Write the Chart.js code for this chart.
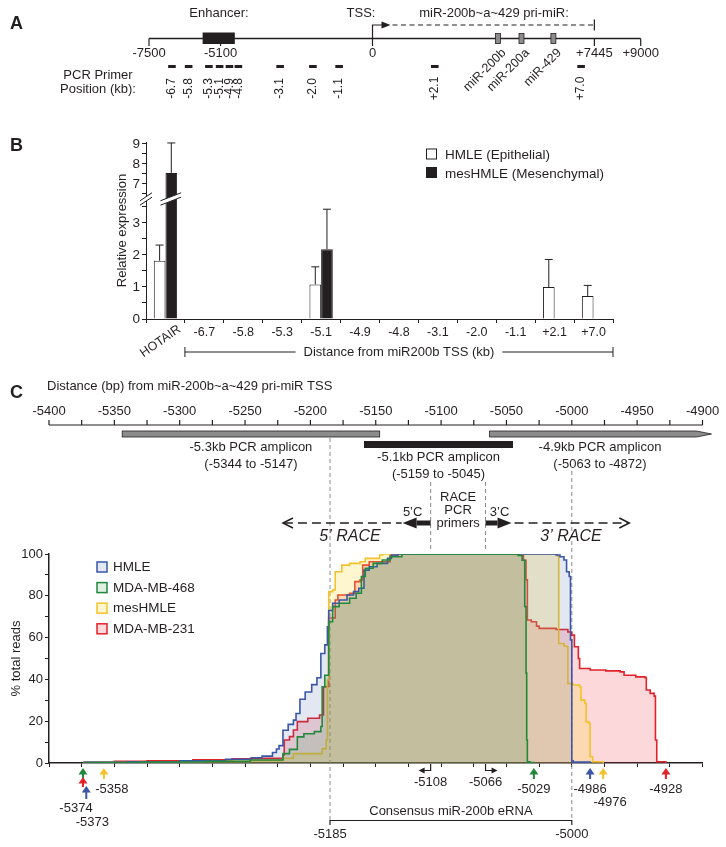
<!DOCTYPE html>
<html>
<head>
<meta charset="utf-8">
<script src="https://cdn.jsdelivr.net/npm/chart.js@4.4.1/dist/chart.umd.min.js"></script>
<style>
  html, body { margin: 0; padding: 0; background: #fff; }
  #fig { position: relative; width: 726px; height: 847px; overflow: hidden; }
  canvas { position: absolute; left: 0; }
</style>
</head>
<body>
<div id="fig">
  <canvas id="panelA" width="726" height="112" style="top:0"></canvas>
  <canvas id="panelB" width="726" height="253" style="top:112px"></canvas>
  <canvas id="panelC" width="726" height="482" style="top:365px"></canvas>
</div>
<script>
// ---- panel A: locus ----
const primerLabels = ['-6.7', '-5.8', '-5.3', '-5.1', '-4.9', '-4.8', '-3.1', '-2.0', '-1.1', '+2.1', '+7.0'];
// where each primer mark sits on the drawn locus (kb); the close ones are spread apart in the figure
const primerMarkKb = [-6.73, -6.17, -5.49, -5.13, -4.80, -4.50, -3.10, -2.00, -1.12, 2.09, 7.0];
const locusTicks = [-7500, -5100, 0, 7445, 9000];
const locusTickLabels = ['-7500', '-5100', '0', '+7445', '+9000'];
const enhancerSpan = [-5700, -4620];
const mirNames = ['miR-200b', 'miR-200a', 'miR-429'];
const mirPos = [4210, 5000, 6070];
const priMirEnd = 7445;

// ---- panel B: relative expression ----
const categories = ['HOTAIR', '-6.7', '-5.8', '-5.3', '-5.1', '-4.9', '-4.8', '-3.1', '-2.0', '-1.1', '+2.1', '+7.0'];
const hmleExpr = [1.82, 0, 0, 0, 1.08, 0, 0, 0, 0, 0, 1.0, 0.72];
const hmleErr  = [0.49, 0, 0, 0, 0.55, 0, 0, 0, 0, 0, 0.86, 0.33];
const mesExpr  = [7.55, 0, 0, 0, 2.18, 0, 0, 0, 0, 0, 0, 0];
const mesErr   = [1.5, 0, 0, 0, 1.25, 0, 0, 0, 0, 0, 0, 0];
const exprTicks = [0, 0.5, 1, 1.5, 2, 2.5, 3, 3.5, 6.5, 7, 7.5, 8, 8.5, 9];
const exprTickLabels = ['0', '', '1', '', '2', '', '3', '', '', '7', '', '8', '', '9'];
const breakLow = 3.75, breakHigh = 6.25, upperScale = 0.625;

// ---- panel C: RACE read coverage [bp, % total reads] ----
const hmleReads = [[-5373, 0.3], [-5340, 0.6], [-5300, 1.0], [-5265, 1.8], [-5245, 2.5], [-5237, 3.3], [-5229, 5.0], [-5226, 6.7], [-5224, 8.3], [-5221, 15.7], [-5217, 18.5], [-5213, 20.5], [-5211, 23.7], [-5208, 30.5], [-5204, 34.0], [-5199, 37.5], [-5195, 40.8], [-5192, 52.4], [-5189, 56.5], [-5187, 65.2], [-5186, 73.0], [-5183, 76.4], [-5178, 78.0], [-5172, 80.4], [-5167, 82.0], [-5163, 83.6], [-5159, 92.3], [-5155, 93.9], [-5149, 95.5], [-5141, 97.9], [-5138, 99.5], [-5133, 100], [-5012, 99.5], [-5009, 98.7], [-5006, 97.1], [-5004, 91.5], [-5002, 89.2], [-5001, 58.9], [-5000, 1.0], [-4999, 0.4], [-4986, 0]];
const mda468Reads = [[-5374, 0.2], [-5330, 0.5], [-5280, 0.8], [-5246, 1.4], [-5221, 4.5], [-5216, 6.5], [-5210, 12.5], [-5205, 14.0], [-5197, 15.0], [-5192, 17.5], [-5191, 36.5], [-5189, 42.0], [-5186, 67.6], [-5183, 74.8], [-5178, 76.4], [-5170, 78.8], [-5165, 81.2], [-5161, 89.2], [-5158, 93.2], [-5152, 95.5], [-5145, 97.1], [-5139, 98.7], [-5130, 100], [-5041, 99.3], [-5038, 97.0], [-5036, 74.8], [-5035, 43.0], [-5034.5, 11.0], [-5034, 0.6], [-5032, 0.2], [-5029, 0]];
const mesReads = [[-5358, 0.2], [-5320, 0.5], [-5280, 0.8], [-5246, 1.1], [-5221, 2.3], [-5213, 4.5], [-5191, 6.9], [-5188, 11.0], [-5187, 39.7], [-5186, 82.0], [-5183, 82.8], [-5181, 91.5], [-5176, 94.7], [-5170, 95.5], [-5162, 96.3], [-5158, 97.9], [-5147, 99.5], [-5145, 100], [-5011, 99.0], [-5010, 57.2], [-5006, 56.0], [-5004, 55.6], [-5003, 38.0], [-4999, 37.3], [-4994, 36.5], [-4993, 30.1], [-4990, 28.5], [-4989, 19.7], [-4987, 19.0], [-4986, 3.0], [-4984, 0.6], [-4976, 0]];
const mda231Reads = [[-5374, 0.3], [-5350, 0.8], [-5325, 1.1], [-5290, 1.5], [-5260, 2.0], [-5246, 2.2], [-5221, 3.8], [-5220, 11.0], [-5216, 12.6], [-5213, 15.8], [-5210, 19.8], [-5202, 21.4], [-5193, 23.0], [-5190, 36.5], [-5186, 69.4], [-5181, 78.0], [-5179, 80.4], [-5170, 81.2], [-5166, 86.8], [-5162, 87.6], [-5160, 94.7], [-5155, 96.3], [-5139, 99.5], [-5133, 100], [-5041, 99.5], [-5037, 97.0], [-5035, 87.6], [-5034, 68.4], [-5031, 67.6], [-5027, 65.5], [-5025, 64.4], [-5012, 63.9], [-5003, 62.7], [-5000, 61.2], [-4998, 55.6], [-4995, 50.0], [-4994, 45.2], [-4986, 44.5], [-4974, 44.1], [-4963, 43.6], [-4960, 42.0], [-4951, 41.2], [-4944, 40.9], [-4943, 34.9], [-4940, 33.3], [-4937, 32.0], [-4936, 11.0], [-4935, 0.6], [-4928, 0]];
const cellLines = ['HMLE', 'MDA-MB-468', 'mesHMLE', 'MDA-MB-231'];
const bpTicks = [-5400, -5350, -5300, -5250, -5200, -5150, -5100, -5050, -5000, -4950, -4900];
const ampliconNames = ['-5.3kb PCR amplicon', '-5.1kb PCR amplicon', '-4.9kb PCR amplicon'];
const ampliconStart = [-5344, -5159, -5063];
const ampliconEnd = [-5147, -5045, -4872];
const racePrimers = [-5108, -5066];
const consensus = [-5185, -5000];
const readEnds = [-5374, -5374, -5373, -5358, -5029, -4986, -4976, -4928];
const readEndLine = [1, 3, 0, 2, 1, 0, 2, 3];

const INK = '#231f20';
const FONT = "'Liberation Sans', Arial, Helvetica, sans-serif";
const lineColors = ['#3a57a7', '#22893c', '#f3c22c', '#e3222a'];
const fillColors = ['rgba(59,91,169,0.15)', 'rgba(40,150,60,0.15)', 'rgba(250,220,60,0.25)', 'rgba(240,40,50,0.18)'];

function toD(v) { return v <= breakLow ? v : breakLow + (v - breakHigh) * upperScale; }

function label(ctx, s, x, y, size, align, style) {
  ctx.font = (style ? style + ' ' : '') + size + 'px ' + FONT;
  ctx.fillStyle = INK;
  ctx.textAlign = align || 'center';
  ctx.textBaseline = 'middle';
  ctx.fillText(s, x, y);
}
function seg(ctx, x0, y0, x1, y1) {
  ctx.beginPath(); ctx.moveTo(x0, y0); ctx.lineTo(x1, y1); ctx.stroke();
}
function panelLetter(ctx, s, y) { label(ctx, s, 10, y, 18, 'left', 'bold'); }

const baseOpts = {
  responsive: false, animation: false, devicePixelRatio: 1, events: [],
  plugins: { legend: { display: false }, tooltip: { enabled: false } }
};

// ================= panel A =================
const locusPlugin = {
  id: 'locus',
  afterDraw(chart) {
    const ctx = chart.ctx;
    const px = v => chart.scales.x.getPixelForValue(v);
    const axisY = 38.5;
    ctx.save();
    ctx.strokeStyle = INK; ctx.fillStyle = INK;
    ctx.lineWidth = 1.5;
    seg(ctx, px(locusTicks[0]), axisY, px(locusTicks[locusTicks.length - 1]), axisY);
    ctx.lineWidth = 1.2;
    locusTicks.forEach((t, i) => {
      seg(ctx, px(t), axisY, px(t), axisY + 7.5);
      label(ctx, locusTickLabels[i], px(t), 53.5, 13);
    });
    ctx.fillStyle = INK;
    ctx.fillRect(px(enhancerSpan[0]), 32.5, px(enhancerSpan[1]) - px(enhancerSpan[0]), 11.5);

    // TSS arrow and pri-miR extent
    const x0 = px(0);
    ctx.beginPath(); ctx.moveTo(x0, axisY); ctx.lineTo(x0, 25); ctx.lineTo(x0 + 11, 25); ctx.stroke();
    ctx.beginPath(); ctx.moveTo(x0 + 18, 25); ctx.lineTo(x0 + 9, 21.5); ctx.lineTo(x0 + 9, 28.5); ctx.closePath(); ctx.fill();
    ctx.setLineDash([5, 3.5]);
    seg(ctx, x0 + 20, 25, px(priMirEnd), 25);
    ctx.setLineDash([]);
    seg(ctx, px(priMirEnd), 19.5, px(priMirEnd), 30.5);

    mirPos.forEach((p, i) => {
      ctx.fillStyle = '#8c8c8c';
      ctx.fillRect(px(p) - 2.5, 33.5, 5, 10);
      ctx.lineWidth = 0.8;
      ctx.strokeRect(px(p) - 2.5, 33.5, 5, 10);
      ctx.save();
      ctx.translate(px(p) + 6, 51);
      ctx.rotate(-Math.PI / 4);
      label(ctx, mirNames[i], 0, 0, 12.5, 'right');
      ctx.restore();
    });

    label(ctx, 'Enhancer:', 219, 13, 13);
    label(ctx, 'TSS:', 361, 13, 13);
    label(ctx, 'miR-200b~a~429 pri-miR:', 494, 13, 13);
    label(ctx, 'PCR Primer', 98, 75, 13);
    label(ctx, 'Position (kb):', 98, 89, 13);

    primerMarkKb.forEach((k, i) => {
      ctx.save();
      ctx.translate(px(k * 1000), 88.5);
      ctx.rotate(-Math.PI / 2);
      label(ctx, primerLabels[i], 0, 0, 12);
      ctx.restore();
    });
    panelLetter(ctx, 'A', 24);
    ctx.restore();
  }
};

new Chart(document.getElementById('panelA'), {
  type: 'scatter',
  data: {
    datasets: [{
      data: primerMarkKb.map(k => ({ x: k * 1000, y: 0.5 })),
      pointStyle: 'line', pointRadius: 3.8, borderWidth: 3.2, borderColor: INK
    }]
  },
  options: Object.assign({}, baseOpts, {
    layout: { padding: { left: 149, right: 85.3, top: 60, bottom: 39 } },
    scales: {
      x: { type: 'linear', min: -7500, max: 9000, display: false },
      y: { min: 0, max: 1, display: false }
    }
  }),
  plugins: [locusPlugin]
});

// ================= panel B =================
function breakMark(ctx, x0, x1, y) {
  const h = 4, g = 2.2;
  ctx.fillStyle = '#fff';
  ctx.beginPath();
  ctx.moveTo(x0, y + h + g); ctx.lineTo(x1, y - h + g);
  ctx.lineTo(x1, y - h - g); ctx.lineTo(x0, y + h - g);
  ctx.closePath(); ctx.fill();
  ctx.strokeStyle = INK; ctx.lineWidth = 1;
  seg(ctx, x0, y + h + g, x1, y - h + g);
  seg(ctx, x0, y + h - g, x1, y - h - g);
}

const exprPlugin = {
  id: 'expr',
  afterDatasetsDraw(chart) {
    const ctx = chart.ctx, ys = chart.scales.y;
    ctx.save();
    ctx.strokeStyle = INK; ctx.lineWidth = 1;
    [[hmleExpr, hmleErr], [mesExpr, mesErr]].forEach(([vals, errs], di) => {
      const meta = chart.getDatasetMeta(di);
      vals.forEach((v, i) => {
        if (!errs[i]) return;
        const bar = meta.data[i];
        const yTop = ys.getPixelForValue(toD(v + errs[i]));
        seg(ctx, bar.x, bar.y, bar.x, yTop);
        seg(ctx, bar.x - 4, yTop, bar.x + 4, yTop);
      });
    });
    ctx.restore();
  },
  afterDraw(chart) {
    const ctx = chart.ctx, xs = chart.scales.x, ys = chart.scales.y, area = chart.chartArea;
    ctx.save();
    const yb = ys.getPixelForValue(breakLow);
    breakMark(ctx, area.left - 6, area.left + 6, yb);
    const mesBar = chart.getDatasetMeta(1).data[0];
    breakMark(ctx, mesBar.x - mesBar.width / 2 - 5, mesBar.x + mesBar.width / 2 + 4, yb);

    // rotated first category label
    ctx.save();
    ctx.translate(xs.getPixelForValue(0) + 14, area.bottom + 9);
    ctx.rotate(-35 * Math.PI / 180);
    label(ctx, categories[0], 0, 0, 12.5, 'right');
    ctx.restore();

    // bracket under the primer categories
    const bx0 = (xs.getPixelForValue(0) + xs.getPixelForValue(1)) / 2;
    const bx1 = area.right;
    const by = area.bottom + 33;
    const title = 'Distance from miR200b TSS (kb)';
    ctx.font = '13px ' + FONT;
    const tw = ctx.measureText(title).width;
    const cx = (bx0 + bx1) / 2;
    ctx.strokeStyle = INK; ctx.lineWidth = 1;
    seg(ctx, bx0, by, cx - tw / 2 - 8, by);
    seg(ctx, cx + tw / 2 + 8, by, bx1, by);
    seg(ctx, bx0, by - 5, bx0, by + 5);
    seg(ctx, bx1, by - 5, bx1, by + 5);
    label(ctx, title, cx, by, 13);

    // legend
    const leg = [['HMLE (Epithelial)', '#fff'], ['mesHMLE (Mesenchymal)', INK]];
    leg.forEach(([t, c], i) => {
      const y = 42 + i * 18.5;
      ctx.fillStyle = c; ctx.fillRect(426.5, y - 5, 10, 10);
      ctx.strokeStyle = INK; ctx.lineWidth = 1; ctx.strokeRect(426.5, y - 5, 10, 10);
      label(ctx, t, 445, y + 1.5, 13.5, 'left');
    });
    panelLetter(ctx, 'B', 34);
    ctx.restore();
  }
};

new Chart(document.getElementById('panelB'), {
  type: 'bar',
  data: {
    labels: categories,
    datasets: [
      { label: 'HMLE (Epithelial)', data: hmleExpr.map(toD), backgroundColor: '#fff', borderColor: INK, borderWidth: 1 },
      { label: 'mesHMLE (Mesenchymal)', data: mesExpr.map(toD), backgroundColor: INK, borderColor: INK, borderWidth: 1 }
    ]
  },
  options: Object.assign({}, baseOpts, {
    layout: { padding: { left: 115, right: 113, top: 30, bottom: 0 } },
    datasets: { bar: { categoryPercentage: 0.6, barPercentage: 1 } },
    scales: {
      x: {
        grid: { drawOnChartArea: false, offset: true, color: INK, tickLength: 4 },
        border: { color: INK, width: 1 },
        ticks: { color: INK, font: { family: FONT, size: 12.5 }, padding: 2, maxRotation: 0, autoSkip: false,
                 callback: (v, i) => i === 0 ? '' : categories[i] },
        afterFit: s => { s.height = 46; }
      },
      y: {
        min: 0, max: 5.53,
        grid: { drawOnChartArea: false, color: INK, tickLength: 4 },
        border: { color: INK, width: 1 },
        afterBuildTicks: s => { s.ticks = exprTicks.map(v => ({ value: toD(v) })); },
        ticks: { color: INK, font: { family: FONT, size: 13.5 }, padding: 2, autoSkip: false,
                 callback: (v, i) => exprTickLabels[i] },
        title: { display: true, text: 'Relative expression', color: INK, font: { family: FONT, size: 13 }, padding: 0 },
        afterFit: s => { s.width = 31; }
      }
    }
  }),
  plugins: [exprPlugin]
});

// ================= panel C =================
function blockArrow(ctx, xFrom, xTo, y) {
  const dir = xTo > xFrom ? 1 : -1, head = 14;
  ctx.fillStyle = INK;
  ctx.fillRect(Math.min(xFrom, xTo - dir * head), y - 2.5, Math.abs(xTo - dir * head - xFrom), 5);
  ctx.beginPath();
  ctx.moveTo(xTo, y); ctx.lineTo(xTo - dir * head, y - 5.5); ctx.lineTo(xTo - dir * head, y + 5.5);
  ctx.closePath(); ctx.fill();
}
function upArrow(ctx, x, yTip, len, color) {
  ctx.fillStyle = color; ctx.strokeStyle = color; ctx.lineWidth = 2;
  ctx.beginPath(); ctx.moveTo(x, yTip); ctx.lineTo(x - 4.5, yTip + 6.5); ctx.lineTo(x + 4.5, yTip + 6.5); ctx.closePath(); ctx.fill();
  seg(ctx, x, yTip + 5, x, yTip + len);
}

const readsPlugin = {
  id: 'reads',
  beforeDatasetsDraw(chart) {
    const ctx = chart.ctx, px = v => chart.scales.x.getPixelForValue(v);
    ctx.save();
    ctx.strokeStyle = '#8a8a8a'; ctx.lineWidth = 1; ctx.setLineDash([4, 3]);
    seg(ctx, px(consensus[0]), 73, px(consensus[0]), 455.5);
    seg(ctx, px(consensus[1]), 106, px(consensus[1]), 455.5);
    racePrimers.forEach(p => seg(ctx, px(p), 117, px(p), 184));
    ctx.restore();
  },
  afterDraw(chart) {
    const ctx = chart.ctx, xs = chart.scales.x, area = chart.chartArea;
    const px = v => xs.getPixelForValue(v);
    ctx.save();
    ctx.strokeStyle = INK;

    // top coordinate ruler
    const topY = 60;
    ctx.lineWidth = 1.2;
    seg(ctx, px(xs.min), topY, px(xs.max), topY);
    for (let v = xs.min; v <= xs.max; v += 25) seg(ctx, px(v), topY, px(v), topY - 5);
    bpTicks.forEach(v => label(ctx, String(v), px(v), 46, 13));
    label(ctx, 'Distance (bp) from miR-200b~a~429 pri-miR TSS', 47, 21, 13, 'left');

    // PCR amplicons
    ctx.lineWidth = 0.8;
    ctx.fillStyle = '#8c8c8c';
    ctx.fillRect(px(ampliconStart[0]), 66, px(ampliconEnd[0]) - px(ampliconStart[0]), 6);
    ctx.strokeRect(px(ampliconStart[0]), 66, px(ampliconEnd[0]) - px(ampliconStart[0]), 6);
    const tip = px(xs.max);
    ctx.beginPath();
    ctx.moveTo(px(ampliconStart[2]), 66); ctx.lineTo(tip - 6, 66); ctx.lineTo(tip + 9, 69);
    ctx.lineTo(tip - 6, 72); ctx.lineTo(px(ampliconStart[2]), 72); ctx.closePath();
    ctx.fill(); ctx.stroke();
    ctx.fillStyle = INK;
    ctx.fillRect(px(ampliconStart[1]), 76, px(ampliconEnd[1]) - px(ampliconStart[1]), 7);
    const ampX = [(px(ampliconStart[0]) + px(ampliconEnd[0])) / 2,
                  (px(ampliconStart[1]) + px(ampliconEnd[1])) / 2,
                  (px(ampliconStart[2]) + tip) / 2 + 4];
    const ampY = [82, 92, 82];
    ampliconNames.forEach((n, i) => {
      label(ctx, n, ampX[i], ampY[i], 13);
      label(ctx, '(' + ampliconStart[i] + ' to ' + ampliconEnd[i] + ')', ampX[i], ampY[i] + 17, 13);
    });

    // RACE directions
    const ry = 158;
    const pL = px(racePrimers[0]), pR = px(racePrimers[1]);
    const outL = px(-5221), outR = px(-4956);
    ctx.strokeStyle = INK; ctx.lineWidth = 1.5;
    ctx.setLineDash([9, 5]);
    seg(ctx, outL + 1, ry, pL - 29, ry);
    seg(ctx, pR + 29, ry, outR - 1, ry);
    ctx.setLineDash([]);
    ctx.beginPath(); ctx.moveTo(outL + 10, ry - 5); ctx.lineTo(outL, ry); ctx.lineTo(outL + 10, ry + 5); ctx.stroke();
    ctx.beginPath(); ctx.moveTo(outR - 10, ry - 5); ctx.lineTo(outR, ry); ctx.lineTo(outR - 10, ry + 5); ctx.stroke();
    blockArrow(ctx, pL, pL - 28, ry);
    blockArrow(ctx, pR, pR + 26, ry);
    label(ctx, '5\u2019C', pL - 18, 147, 13);
    label(ctx, '3\u2019C', pR + 14, 147, 13);
    ['RACE', 'PCR', 'primers'].forEach((t, i) => label(ctx, t, (pL + pR) / 2, 132 + i * 13.3, 13));
    label(ctx, '5\u2019 RACE', 350, 172, 16, 'center', 'italic');
    label(ctx, '3\u2019 RACE', 571, 172, 16, 'center', 'italic');

    // legend
    cellLines.forEach((n, i) => {
      const y = 202 + i * 20.6;
      ctx.fillStyle = '#fff'; ctx.fillRect(97, y - 5, 10, 10);
      ctx.fillStyle = fillColors[i]; ctx.fillRect(97, y - 5, 10, 10);
      ctx.strokeStyle = lineColors[i]; ctx.lineWidth = 1.5; ctx.strokeRect(97, y - 5, 10, 10);
      label(ctx, n, 113, y + 0.5, 13.5, 'left');
    });

    // read end arrows
    const tipY = [403, 412, 421, 403, 403, 403, 403, 403];
    const tipLen = [10, 10, 13, 11, 11, 11, 11, 11];
    const labY = [null, 443, 457, 424, 424, 424, 437, 424];
    const labDx = [0, -7, 8, 8, 0, 0, 7, 0];
    readEnds.forEach((v, i) => {
      upArrow(ctx, px(v) + (i === 2 ? 2 : 0), tipY[i], tipLen[i], lineColors[readEndLine[i]]);
      if (labY[i] !== null) label(ctx, String(v), px(v) + labDx[i], labY[i], 13);
    });

    // RACE primer positions on the axis
    ctx.strokeStyle = INK; ctx.fillStyle = INK; ctx.lineWidth = 1.2;
    [[pL, -1], [pR, 1]].forEach(([x, d]) => {
      ctx.beginPath(); ctx.moveTo(x, area.bottom + 1); ctx.lineTo(x, area.bottom + 7.5); ctx.lineTo(x + d * 7, area.bottom + 7.5); ctx.stroke();
      ctx.beginPath(); ctx.moveTo(x + d * 12, area.bottom + 7.5); ctx.lineTo(x + d * 6, area.bottom + 4.5); ctx.lineTo(x + d * 6, area.bottom + 10.5); ctx.closePath(); ctx.fill();
    });
    racePrimers.forEach(p => label(ctx, String(p), px(p), 417, 13));

    // consensus eRNA
    const cx0 = px(consensus[0]), cx1 = px(consensus[1]);
    ctx.lineWidth = 1.2;
    ctx.beginPath(); ctx.moveTo(cx0, 460); ctx.lineTo(cx0, 455.5); ctx.lineTo(cx1, 455.5); ctx.lineTo(cx1, 460); ctx.stroke();
    label(ctx, 'Consensus miR-200b eRNA', (cx0 + cx1) / 2, 446.5, 13);
    consensus.forEach(v => label(ctx, String(v), px(v), 469, 13));

    panelLetter(ctx, 'C', 28);
    ctx.restore();
  }
};

const readSeries = [hmleReads, mda468Reads, mesReads, mda231Reads];
const drawOrder = [2, 1, 3, 4];

new Chart(document.getElementById('panelC'), {
  type: 'line',
  data: {
    datasets: readSeries.map((pts, i) => ({
      label: cellLines[i],
      data: pts.map(([x, y]) => ({ x, y })),
      borderColor: lineColors[i],
      backgroundColor: fillColors[i],
      fill: 'origin',
      stepped: true,
      borderWidth: 1.6,
      pointRadius: 0,
      order: drawOrder[i]
    }))
  },
  options: Object.assign({}, baseOpts, {
    layout: { padding: { left: 9, right: 23.5, top: 189, bottom: 0 } },
    scales: {
      x: {
        type: 'linear', min: -5400, max: -4900,
        grid: { drawOnChartArea: false, color: INK, tickLength: 4 },
        border: { color: INK, width: 1.5 },
        ticks: { stepSize: 25, autoSkip: false, callback: () => '' },
        afterFit: s => { s.height = 84; }
      },
      y: {
        min: 0, max: 100,
        grid: { drawOnChartArea: false, color: INK, tickLength: 4 },
        border: { color: INK, width: 1.5 },
        ticks: { stepSize: 10, color: INK, font: { family: FONT, size: 13 }, padding: 2, autoSkip: false,
                 callback: v => (v % 20 === 0 ? String(v) : '') },
        title: { display: true, text: '% total reads', color: INK, font: { family: FONT, size: 13 }, padding: 0 },
        afterFit: s => { s.width = 40; }
      }
    }
  }),
  plugins: [readsPlugin]
});
</script>
</body>
</html>
